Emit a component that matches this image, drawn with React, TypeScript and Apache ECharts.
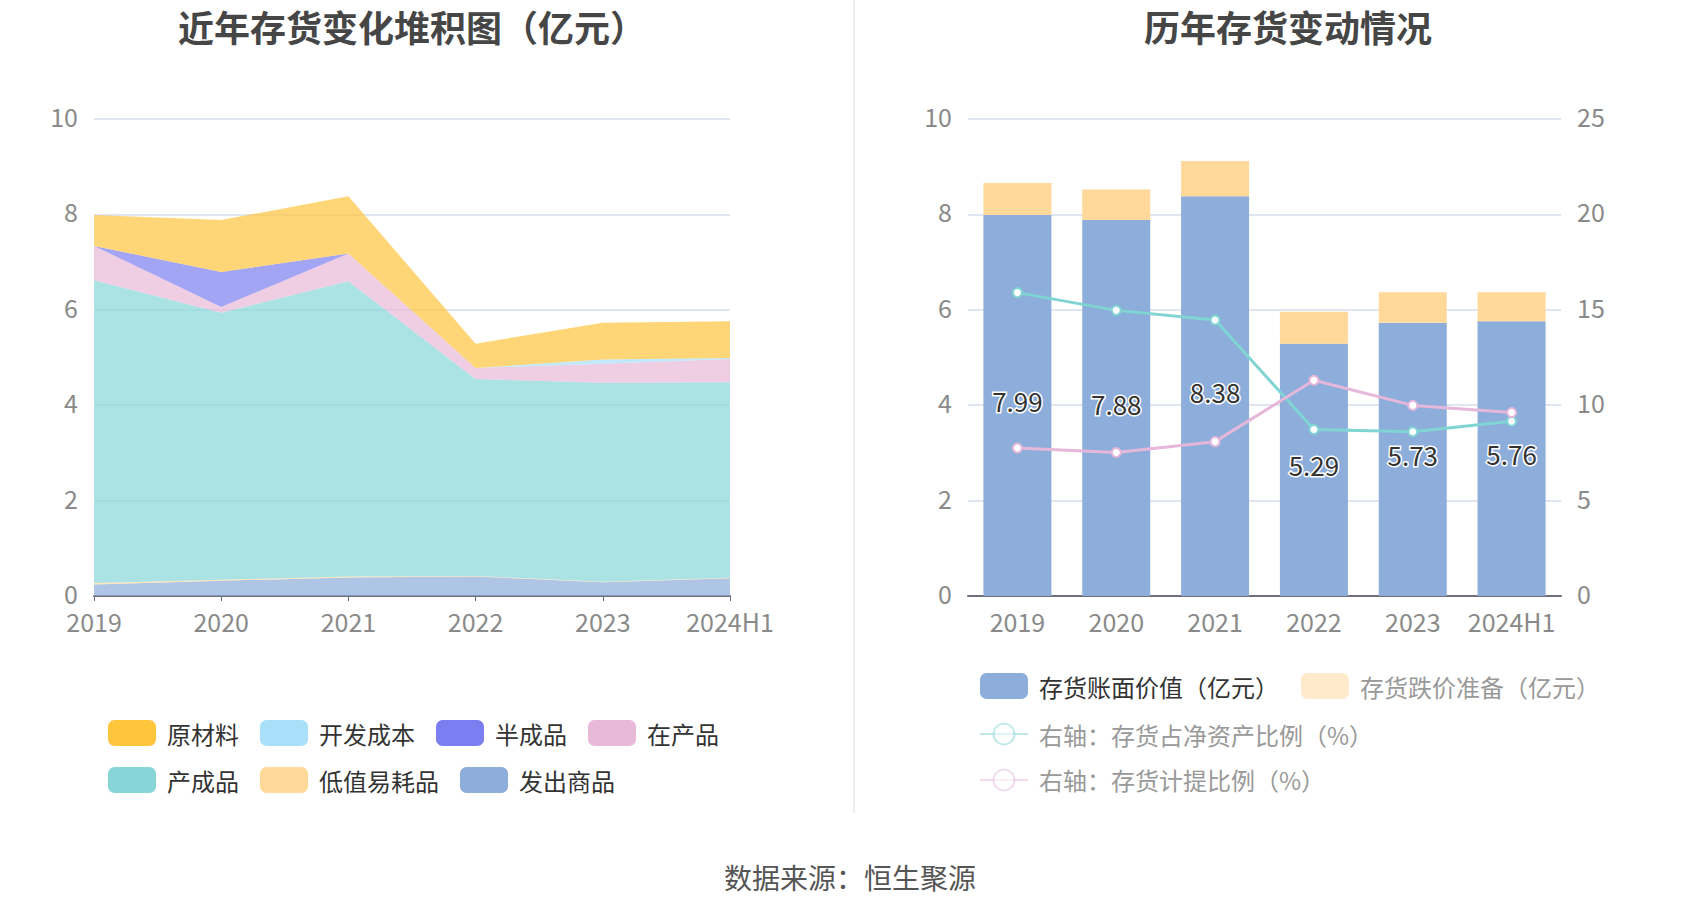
import React, { useEffect, useRef } from "react";
import * as echarts from "echarts";

const years = ["2019", "2020", "2021", "2022", "2023", "2024H1"];

// Left chart: stacked inventory composition (亿元), bottom to top
const fachu = [0.24, 0.32, 0.39, 0.41, 0.29, 0.37]; // 发出商品
const dizhi = [0.03, 0.02, 0.02, 0.01, 0.01, 0.01]; // 低值易耗品
const chancheng = [6.35, 5.6, 6.19, 4.13, 4.17, 4.1]; // 产成品
const zaichan = [0.72, 0.12, 0.58, 0.23, 0.4, 0.49]; // 在产品
const bancheng = [0, 0.73, 0, 0, 0, 0]; // 半成品
const kaifa = [0, 0, 0, 0, 0.09, 0.02]; // 开发成本
const yuancai = [0.65, 1.09, 1.2, 0.51, 0.77, 0.77]; // 原材料

// Right chart
const bookValue = [7.99, 7.88, 8.38, 5.29, 5.73, 5.76];
const reserve = [0.67, 0.64, 0.74, 0.67, 0.64, 0.61];
const netAssetRatio = [15.9, 14.97, 14.47, 8.73, 8.61, 9.16];
const provisionRatio = [7.76, 7.52, 8.09, 11.31, 9.99, 9.62];

const leftTicks = [0, 2, 4, 6, 8, 10];
const rightTicks = [0, 5, 10, 15, 20, 25];

const FONT = "'Noto Sans CJK SC', 'Noto Sans', sans-serif";
const AXIS_LABEL = { color: "#8a8a8a", fontSize: 25, fontFamily: FONT };

export default function App() {
  const ref = useRef<HTMLDivElement>(null);
  useEffect(() => {
    if (!ref.current) return;
    const chart = echarts.init(ref.current, null, { renderer: "svg" });

    const areaSeries = (name: string, data: number[], color: string) => ({
      name,
      type: "line",
      stack: "inv",
      xAxisIndex: 0,
      yAxisIndex: 0,
      data,
      symbol: "none",
      color,
      lineStyle: { width: 0, opacity: 0 },
      areaStyle: { color, opacity: 0.7 },
    });

    const Y_LABEL = {
      ...AXIS_LABEL,
      margin: 16,
      formatter: (v: number) => `{a|${v}}`,
      rich: {
        a: { fontSize: 25, color: "#8a8a8a", fontFamily: FONT, padding: [0, 0, 6, 0] },
      },
    };

    chart.setOption({
      animation: false,
      textStyle: { fontFamily: FONT },
      title: [
        {
          text: "近年存货变化堆积图（亿元）",
          left: 407,
          top: 3,
          textAlign: "center",
          textStyle: { fontSize: 36, fontWeight: "bold", color: "#464646", fontFamily: FONT },
        },
        {
          text: "历年存货变动情况",
          left: 1283,
          top: 3,
          textAlign: "center",
          textStyle: { fontSize: 36, fontWeight: "bold", color: "#464646", fontFamily: FONT },
        },
      ],
      graphic: [
        {
          type: "line",
          shape: { x1: 854, y1: 0, x2: 854, y2: 813 },
          style: { stroke: "#eeeeee", lineWidth: 2 },
        },
        {
          type: "text",
          x: 850,
          y: 877,
          style: {
            text: "数据来源：恒生聚源",
            fontSize: 28,
            fill: "#555555",
            fontFamily: FONT,
            align: "center",
            verticalAlign: "middle",
          },
        },
      ],
      legend: [
        {
          left: 103,
          top: 715,
          width: 680,
          itemWidth: 48,
          itemHeight: 26,
          itemGap: 21,
          icon: "roundRect",
          textStyle: { fontSize: 24, color: "#333", fontFamily: FONT, padding: [0, 0, 0, 6] },
          data: ["原材料", "开发成本", "半成品", "在产品", "产成品", "低值易耗品", "发出商品"],
        },
        {
          left: 974,
          top: 668,
          width: 680,
          itemWidth: 48,
          itemHeight: 26,
          itemGap: 22,
          textStyle: { fontSize: 24, color: "#333", fontFamily: FONT, padding: [0, 0, 0, 6] },
          data: [
            { name: "存货账面价值（亿元）", icon: "roundRect" },
            {
              name: "存货跌价准备（亿元）",
              icon: "roundRect",
              itemStyle: { opacity: 0.5 },
              textStyle: { color: "#999" },
            },
            {
              name: "右轴：存货占净资产比例（%）",
              itemStyle: { opacity: 0.5 },
              lineStyle: { opacity: 0.5 },
              textStyle: { color: "#999" },
            },
            {
              name: "右轴：存货计提比例（%）",
              itemStyle: { opacity: 0.5 },
              lineStyle: { opacity: 0.5 },
              textStyle: { color: "#999" },
            },
          ],
        },
      ],
      grid: [
        { left: 94, right: 970, top: 119, bottom: 322 },
        { left: 968, right: 139, top: 119, bottom: 322 },
      ],
      xAxis: [
        {
          type: "category",
          gridIndex: 0,
          data: years,
          boundaryGap: false,
          axisLine: { lineStyle: { color: "#6E7079", width: 2 } },
          axisTick: { lineStyle: { color: "#6E7079" } },
          axisLabel: { ...AXIS_LABEL, margin: 12, interval: 0 },
        },
        {
          type: "category",
          gridIndex: 1,
          data: years,
          axisLine: { lineStyle: { color: "#6E7079", width: 2 } },
          axisTick: { alignWithLabel: true, lineStyle: { color: "#6E7079" } },
          axisLabel: { ...AXIS_LABEL, margin: 12, interval: 0 },
        },
      ],
      yAxis: [
        {
          type: "value",
          gridIndex: 0,
          min: leftTicks[0],
          max: leftTicks[leftTicks.length - 1],
          interval: leftTicks[1] - leftTicks[0],
          axisLabel: Y_LABEL,
          splitLine: { lineStyle: { color: "#E0E6F1", width: 2 } },
        },
        {
          type: "value",
          gridIndex: 1,
          min: leftTicks[0],
          max: leftTicks[leftTicks.length - 1],
          interval: leftTicks[1] - leftTicks[0],
          axisLabel: Y_LABEL,
          splitLine: { lineStyle: { color: "#E0E6F1", width: 2 } },
        },
        {
          type: "value",
          gridIndex: 1,
          position: "right",
          min: rightTicks[0],
          max: rightTicks[rightTicks.length - 1],
          interval: rightTicks[1] - rightTicks[0],
          axisLabel: Y_LABEL,
          splitLine: { show: false },
        },
      ],
      series: [
        areaSeries("发出商品", fachu, "#8DADDA"),
        areaSeries("低值易耗品", dizhi, "#FFD89A"),
        areaSeries("产成品", chancheng, "#88D5D8"),
        areaSeries("在产品", zaichan, "#E8B9D8"),
        areaSeries("半成品", bancheng, "#7A7EF0"),
        areaSeries("开发成本", kaifa, "#A8E0FA"),
        areaSeries("原材料", yuancai, "#FFC53D"),
        {
          name: "存货账面价值（亿元）",
          type: "bar",
          xAxisIndex: 1,
          yAxisIndex: 1,
          stack: "bar",
          barWidth: 68,
          data: bookValue,
          itemStyle: { color: "#8DADDA" },
          label: {
            show: true,
            position: "inside",
            offset: [0, -5],
            fontSize: 26,
            color: "#333",
            textBorderColor: "#fff",
            textBorderWidth: 3,
            fontFamily: FONT,
          },
        },
        {
          name: "存货跌价准备（亿元）",
          type: "bar",
          xAxisIndex: 1,
          yAxisIndex: 1,
          stack: "bar",
          barWidth: 68,
          data: reserve,
          itemStyle: { color: "#FFD89A" },
        },
        {
          name: "右轴：存货占净资产比例（%）",
          type: "line",
          xAxisIndex: 1,
          yAxisIndex: 2,
          data: netAssetRatio,
          symbol: "emptyCircle",
          symbolSize: 9,
          color: "#80D4D4",
          lineStyle: { width: 3, color: "#80D4D4" },
          itemStyle: { color: "#80D4D4", borderWidth: 3 },
          z: 5,
        },
        {
          name: "右轴：存货计提比例（%）",
          type: "line",
          xAxisIndex: 1,
          yAxisIndex: 2,
          data: provisionRatio,
          symbol: "emptyCircle",
          symbolSize: 9,
          color: "#E5B7DA",
          lineStyle: { width: 3, color: "#E5B7DA" },
          itemStyle: { color: "#E5B7DA", borderWidth: 3 },
          z: 5,
        },
      ],
    });
    return () => chart.dispose();
  }, []);

  return (
    <div
      ref={ref}
      style={{ position: "absolute", left: 0, top: 0, width: 1700, height: 918, background: "#fff" }}
    />
  );
}
